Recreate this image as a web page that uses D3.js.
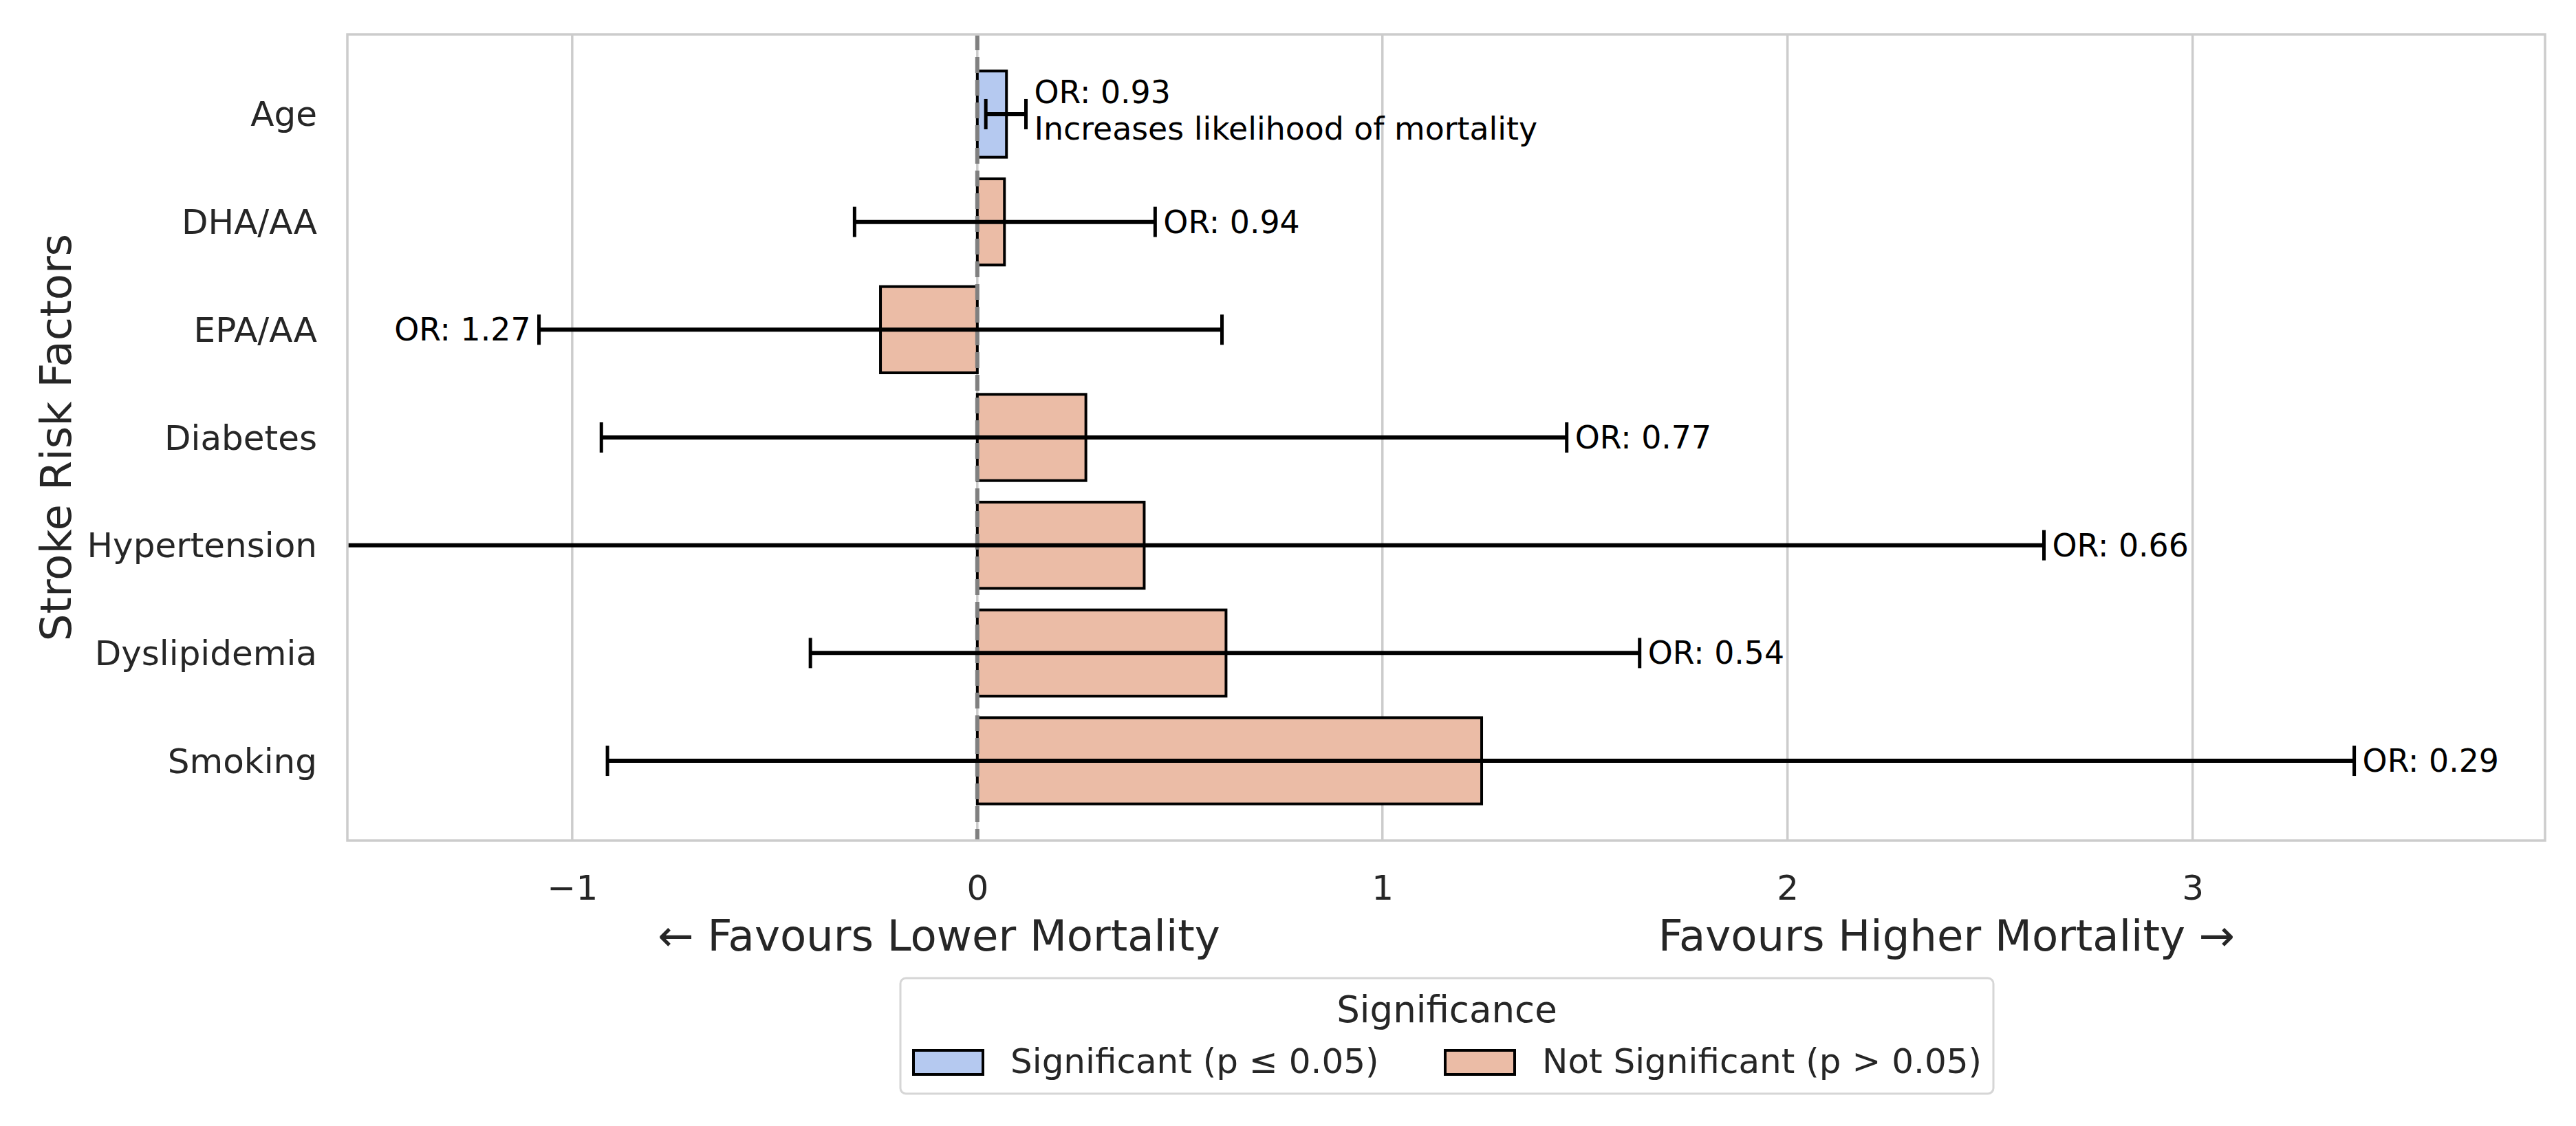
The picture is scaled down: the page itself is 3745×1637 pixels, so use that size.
<!DOCTYPE html>
<html lang="en">
<head>
<meta charset="UTF-8">
<title>Stroke Risk Factors</title>
<script src="https://d3js.org/d3.v7.min.js"></script>
<style>
   body { margin: 0; background: #fff; }
   svg { font-family: "DejaVu Sans", sans-serif; }
   .tick text { fill: #262626; }
</style>
</head>
<body>
<div id="chart"></div>
<script>
// values (log-odds scale, bar = effect, whiskers = CI)
const factors = ["Age", "DHA/AA", "EPA/AA", "Diabetes", "Hypertension", "Dyslipidemia", "Smoking"];
const effect = [0.072, 0.067, -0.239, 0.268, 0.412, 0.614, 1.245];
const ciLow = [0.021, -0.303, -1.082, -0.928, -1.809, -0.412, -0.913];
const ciHigh = [0.120, 0.439, 0.604, 1.455, 2.633, 1.635, 3.399];
const orLabels = ["OR: 0.93", "OR: 0.94", "OR: 1.27", "OR: 0.77", "OR: 0.66", "OR: 0.54", "OR: 0.29"];
const notes = ["Increases likelihood of mortality", "", "", "", "", "", ""];
const significant = [true, false, false, false, false, false, false];
const xTicks = [-1, 0, 1, 2, 3];
const xDomain = [-1.555, 3.87];
const legendLabels = ["Significant (p \u2264 0.05)", "Not Significant (p > 0.05)"];
const legendColors = ["#b5c9f0", "#ebbca6"];

const width = 3745, height = 1637;
const margin = { top: 50, right: 45, bottom: 415, left: 505 };
const plotW = width - margin.left - margin.right;
const plotH = height - margin.top - margin.bottom;

const rows = factors.map((f, i) => ({
   name: f, value: effect[i], lo: ciLow[i], hi: ciHigh[i],
   label: orLabels[i], note: notes[i], sig: significant[i]
}));

const svg = d3.select('#chart').append('svg')
   .attr('width', width).attr('height', height);

const x = d3.scaleLinear().domain(xDomain).range([margin.left, margin.left + plotW]);
const y = d3.scaleBand().domain(factors)
   .range([margin.top, margin.top + plotH])
   .paddingInner(0.2).paddingOuter(0.34);

svg.append('clipPath').attr('id', 'plot-clip')
   .append('rect')
   .attr('x', margin.left).attr('y', margin.top)
   .attr('width', plotW).attr('height', plotH);

// vertical grid
svg.append('g').selectAll('line')
   .data(xTicks).enter().append('line')
   .attr('x1', d => x(d)).attr('x2', d => x(d))
   .attr('y1', margin.top).attr('y2', margin.top + plotH)
   .attr('stroke', '#cccccc').attr('stroke-width', 3.5);

const plot = svg.append('g').attr('clip-path', 'url(#plot-clip)');

// bars
plot.selectAll('.bar')
   .data(rows).enter().append('rect')
   .attr('class', 'bar')
   .attr('x', d => x(Math.min(0, d.value)))
   .attr('y', d => y(d.name))
   .attr('width', d => Math.abs(x(d.value) - x(0)))
   .attr('height', y.bandwidth())
   .attr('fill', d => d.sig ? legendColors[0] : legendColors[1])
   .attr('stroke', '#000').attr('stroke-width', 4);

// zero reference line
plot.append('line')
   .attr('x1', x(0)).attr('x2', x(0))
   .attr('y1', margin.top).attr('y2', margin.top + plotH)
   .attr('stroke', '#808080').attr('stroke-width', 6)
   .attr('stroke-dasharray', '23,10');

// error bars
const cy = d => y(d.name) + y.bandwidth() / 2;
const capHalf = 22;
plot.selectAll('.err')
   .data(rows).enter().append('line')
   .attr('x1', d => x(d.lo)).attr('x2', d => x(d.hi))
   .attr('y1', cy).attr('y2', cy)
   .attr('stroke', '#000').attr('stroke-width', 6);

rows.forEach(d => {
   [d.lo, d.hi].forEach(v => {
      plot.append('line')
         .attr('x1', x(v)).attr('x2', x(v))
         .attr('y1', cy(d) - capHalf).attr('y2', cy(d) + capHalf)
         .attr('stroke', '#000').attr('stroke-width', 5);
   });
});

// OR labels: on the right of the upper whisker, or left of the lower one for negative effects
const labelX = d => d.value < 0 ? x(d.lo) - 12 : x(d.hi) + 12;
const labels = svg.append('g').selectAll('text')
   .data(rows).enter().append('text')
   .attr('x', labelX)
   .attr('y', cy)
   .attr('text-anchor', d => d.value < 0 ? 'end' : 'start')
   .attr('font-size', 45.8)
   .attr('fill', '#000');

labels.append('tspan')
   .attr('x', labelX)
   .attr('dy', d => d.note ? '-0.34em' : '0.35em')
   .text(d => d.label);

labels.filter(d => d.note).append('tspan')
   .attr('x', labelX)
   .attr('dy', '1.15em')
   .text(d => d.note);

// axes
const yAxis = svg.append('g')
   .attr('transform', `translate(${margin.left}, 0)`)
   .call(d3.axisLeft(y).tickSize(0).tickPadding(44));
yAxis.select('.domain').remove();
yAxis.selectAll('text').attr('font-size', 50).attr('dy', '0.35em')
   .style('font-family', '"DejaVu Sans", sans-serif');

const xAxis = svg.append('g')
   .attr('transform', `translate(0, ${margin.top + plotH})`)
   .call(d3.axisBottom(x).tickValues(xTicks).tickFormat(d3.format('d')).tickSize(0).tickPadding(50));
xAxis.select('.domain').remove();
xAxis.selectAll('text').attr('font-size', 50)
   .style('font-family', '"DejaVu Sans", sans-serif');

// frame (light spines on all sides)
svg.append('rect')
   .attr('x', margin.left).attr('y', margin.top)
   .attr('width', plotW).attr('height', plotH)
   .attr('fill', 'none').attr('stroke', '#cccccc').attr('stroke-width', 3.5);

// axis titles
svg.append('text')
   .attr('x', 1365).attr('y', 1382)
   .attr('text-anchor', 'middle').attr('font-size', 62.5).attr('fill', '#262626')
   .text('\u2190 Favours Lower Mortality');
svg.append('text')
   .attr('x', 2830).attr('y', 1382)
   .attr('text-anchor', 'middle').attr('font-size', 62.5).attr('fill', '#262626')
   .text('Favours Higher Mortality \u2192');
svg.append('text')
   .attr('transform', `translate(103, ${margin.top + plotH / 2}) rotate(-90)`)
   .attr('text-anchor', 'middle').attr('font-size', 62.5).attr('fill', '#262626')
   .text('Stroke Risk Factors');

// legend
const legend = svg.append('g');
const lgX = 1309, lgY = 1422, lgW = 1589, lgH = 168;
legend.append('rect')
   .attr('x', lgX).attr('y', lgY).attr('width', lgW).attr('height', lgH)
   .attr('rx', 8).attr('fill', '#fff')
   .attr('stroke', '#d6d6d6').attr('stroke-width', 3);
legend.append('text')
   .attr('x', lgX + lgW / 2).attr('y', 1486)
   .attr('text-anchor', 'middle').attr('font-size', 53).attr('fill', '#262626')
   .text('Significance');

const entryX = [1328, 2101];
legendLabels.forEach((lab, i) => {
   legend.append('rect')
      .attr('x', entryX[i]).attr('y', 1527).attr('width', 101).attr('height', 35)
      .attr('fill', legendColors[i]).attr('stroke', '#000').attr('stroke-width', 4);
   legend.append('text')
      .attr('x', entryX[i] + 141).attr('y', 1560)
      .attr('font-size', 50).attr('fill', '#262626')
      .text(lab);
});
</script>
</body>
</html>
